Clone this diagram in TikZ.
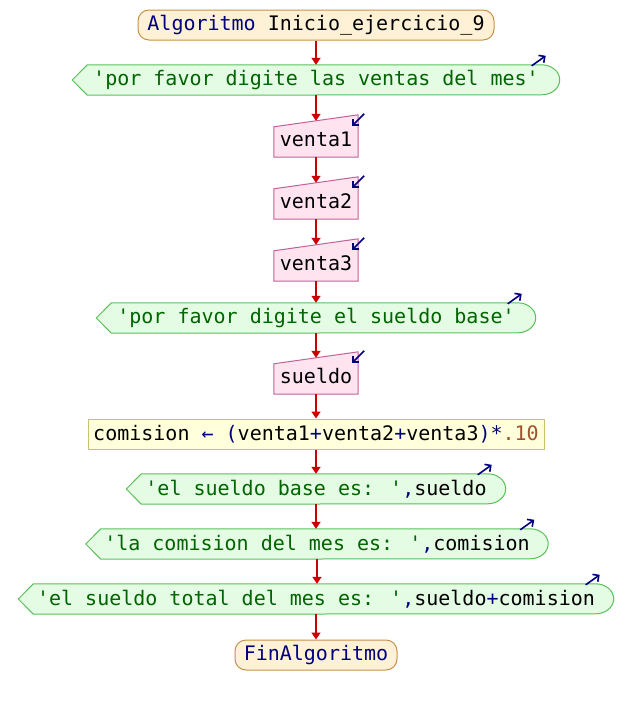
\documentclass[tikz,border=0pt]{standalone}
\usepackage{fontspec}
\newfontfamily\codefont{DejaVu Sans Mono}
\usetikzlibrary{arrows.meta,backgrounds}

% palette
\definecolor{termfill}{HTML}{FFF1D6}
\definecolor{termedge}{HTML}{C8904A}
\definecolor{outfill}{HTML}{E4FCE4}
\definecolor{outedge}{HTML}{5CBF5C}
\definecolor{infill}{HTML}{FFE4F0}
\definecolor{inedge}{HTML}{C3619A}
\definecolor{procfill}{HTML}{FFFFDC}
\definecolor{procedge}{HTML}{C8C46E}
\definecolor{flowred}{HTML}{CC0000}
\definecolor{kwcol}{HTML}{00007F}
\definecolor{strcol}{HTML}{006400}
\definecolor{numcol}{HTML}{A0522D}

% syntax colouring helpers
\newcommand\kwtext[1]{\textcolor{kwcol}{#1}}
\newcommand\strtext[1]{\textcolor{strcol}{#1}}
\newcommand\numtext[1]{\textcolor{numcol}{#1}}
\newcommand\sq{\textquotesingle}

\tikzset{
  every node/.style={font=\codefont\fontsize{20pt}{24pt}\selectfont, inner sep=0pt},
  term/.style={draw=termedge, fill=termfill, line width=1pt, rounded corners=11pt,
               minimum height=30pt},
  proc/.style={draw=procedge, fill=procfill, line width=1pt, minimum height=30pt},
  outtext/.style={minimum height=30pt},
  intext/.style={minimum height=36pt, minimum width=84pt},
  outshape/.style={draw=outedge, fill=outfill, line width=1pt},
  inshape/.style={draw=inedge, fill=infill, line width=1pt},
  flow/.style={draw=flowred, line width=1.6pt, -{Triangle[length=7pt,width=9pt]}},
  iomark/.style={draw=kwcol, line width=1.6pt, -{Straight Barb[length=4.5pt,width=9pt]}}
}

\begin{document}
\begin{tikzpicture}[x=1pt,y=-1pt]
  \useasboundingbox (0,0) rectangle (632,704);

  % blocks of the flowchart
  \node[term, minimum width=356pt] (start) at (316,25)
    {\kwtext{Algoritmo} Inicio\_ejercicio\_9};
  \node[outtext, minimum width=487pt] (o1) at (316,80)
    {\strtext{\sq por favor digite las ventas del mes\sq}};
  \node[intext] (i1) at (316,139) {venta1};
  \node[intext] (i2) at (316,201) {venta2};
  \node[intext] (i3) at (316,263) {venta3};
  \node[outtext, minimum width=439pt] (o2) at (316,318)
    {\strtext{\sq por favor digite el sueldo base\sq}};
  \node[intext] (i4) at (316,376) {sueldo};
  \node[proc, minimum width=456pt] (comp) at (316,434)
    {comision \kwtext{←} \kwtext{(}venta1\kwtext{+}venta2\kwtext{+}venta3\kwtext{)*}\numtext{.10}};
  \node[outtext, minimum width=379pt] (o3) at (316,489)
    {\strtext{\sq el sueldo base es: \sq}\kwtext{,}sueldo};
  \node[outtext, minimum width=462pt] (o4) at (317,544)
    {\strtext{\sq la comision del mes es: \sq}\kwtext{,}comision};
  \node[outtext, minimum width=595pt] (o5) at (316,599)
    {\strtext{\sq el sueldo total del mes es: \sq}\kwtext{,}sueldo\kwtext{+}comision};
  \node[term, minimum width=162pt] (fin) at (316,655) {\kwtext{FinAlgoritmo}};

  % output and input outlines behind their texts
  \begin{scope}[on background layer]
    \foreach \n in {o1,o2,o3,o4,o5}{
      \path[outshape] (\n.west) -- ([xshift=15pt]\n.north west)
        -- ([xshift=-18pt]\n.north east)
        arc[start angle=90, end angle=-90, x radius=18pt, y radius=15pt]
        -- ([xshift=15pt]\n.south west) -- cycle;
    }
    \foreach \n in {i1,i2,i3,i4}{
      \path[inshape] (\n.south west) -- ([yshift=-6pt]\n.north west)
        -- ([yshift=6pt]\n.north east) -- (\n.south east) -- cycle;
    }
  \end{scope}

  % control flow
  \foreach \a/\b in {start/o1,o1/i1,i1/i2,i2/i3,i3/o2,o2/i4,i4/comp,comp/o3,o3/o4,o4/o5,o5/fin}
    \draw[flow] (\a.south) -- (\a.south |- \b.north);

  % direction marks of output and input blocks
  \foreach \n in {o1,o2,o3,o4,o5}
    \draw[iomark] ([shift={(-28pt,-1pt)}]\n.north east) -- ([shift={(-14pt,9pt)}]\n.north east);
  \foreach \n in {i1,i2,i3,i4}
    \draw[iomark] ([shift={(6pt,7pt)}]\n.north east) -- ([shift={(-6pt,-5pt)}]\n.north east);
\end{tikzpicture}
\end{document}
